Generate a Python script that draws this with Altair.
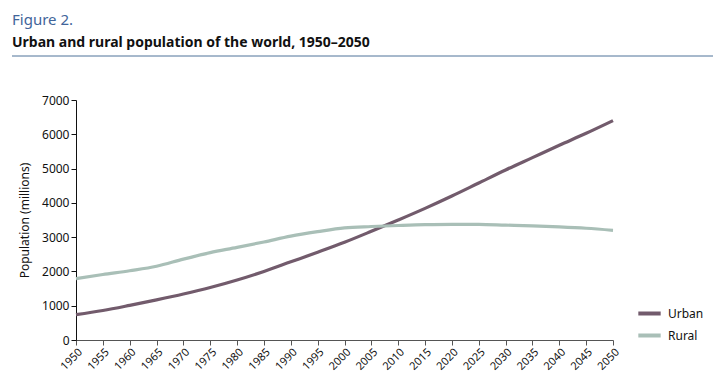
import altair as alt
import pandas as pd

years = list(range(1950, 2051, 5))
urban = [740, 860, 1010, 1170, 1340, 1530, 1750, 2000, 2280, 2560, 2850, 3170, 3500, 3840, 4200, 4580, 4960, 5320, 5680, 6030, 6400]
rural = [1790, 1910, 2020, 2150, 2360, 2550, 2700, 2860, 3030, 3160, 3270, 3310, 3340, 3365, 3375, 3370, 3350, 3330, 3300, 3260, 3200]
series = ["Urban", "Rural"]
colors = ["#725b6c", "#a9bfb7"]
fig_label = "Figure 2."
fig_title = "Urban and rural population of the world, 1950–2050"

rows = []
for y, u, r in zip(years, urban, rural):
    rows.append({"year": y, "value": u, "series": "Urban"})
    rows.append({"year": y, "value": r, "series": "Rural"})
df = pd.DataFrame(rows)

FONT = "Noto Sans"

lines = alt.Chart(df).mark_line(strokeWidth=3.2, interpolate="monotone").encode(
    x=alt.X("year:Q", scale=alt.Scale(domain=[1950, 2050], nice=False, zero=False),
            axis=alt.Axis(values=years, format="d", labelAngle=-45, labelFontSize=11,
                          labelOverlap=False, labelBound=False,
                          labelColor="#111", domainColor="#555", tickColor="#555",
                          tickSize=5, grid=False, title=None, labelPadding=1)),
    y=alt.Y("value:Q", scale=alt.Scale(domain=[0, 7000], nice=False),
            axis=alt.Axis(values=list(range(0, 7001, 1000)), format="d", labelFontSize=12,
                          labelColor="#111", domainColor="#111", tickColor="#111",
                          tickSize=5, grid=False, title="Population (millions)",
                          titleFontSize=12, titleFontWeight="normal", titleColor="#111",
                          titlePadding=10)),
    color=alt.Color("series:N", scale=alt.Scale(domain=series, range=colors),
                    legend=alt.Legend(title=None, orient="none", legendX=560, legendY=200,
                                      symbolType="stroke", symbolStrokeWidth=4,
                                      symbolSize=500, labelFontSize=12, labelColor="#111",
                                      rowPadding=0, labelOffset=5)),
)

rule = alt.Chart(pd.DataFrame({"a": [0]})).mark_rule(color="#4f7399", strokeWidth=1).encode(
    x=alt.value(-64), x2=alt.value(646), y=alt.value(-44)
)

t1 = alt.Chart(pd.DataFrame({"t": [fig_label]})).mark_text(
    align="left", baseline="alphabetic", fontSize=15, color="#41659a", font=FONT
).encode(text="t:N", x=alt.value(-64), y=alt.value(-75))

t2 = alt.Chart(pd.DataFrame({"t": [fig_title]})).mark_text(
    align="left", baseline="alphabetic", fontSize=14, fontWeight="bold", color="#111", font=FONT
).encode(text="t:N", x=alt.value(-64), y=alt.value(-53))

chart = alt.layer(rule, t1, t2, lines).properties(
    width=537, height=240,
    autosize=alt.AutoSizeParams(type="none"),
    padding={"left": 68, "top": 92, "right": 100, "bottom": 40},
).configure(font=FONT).configure_view(stroke=None)

chart.save("out.html", embed_options={"renderer": "svg", "actions": False})
